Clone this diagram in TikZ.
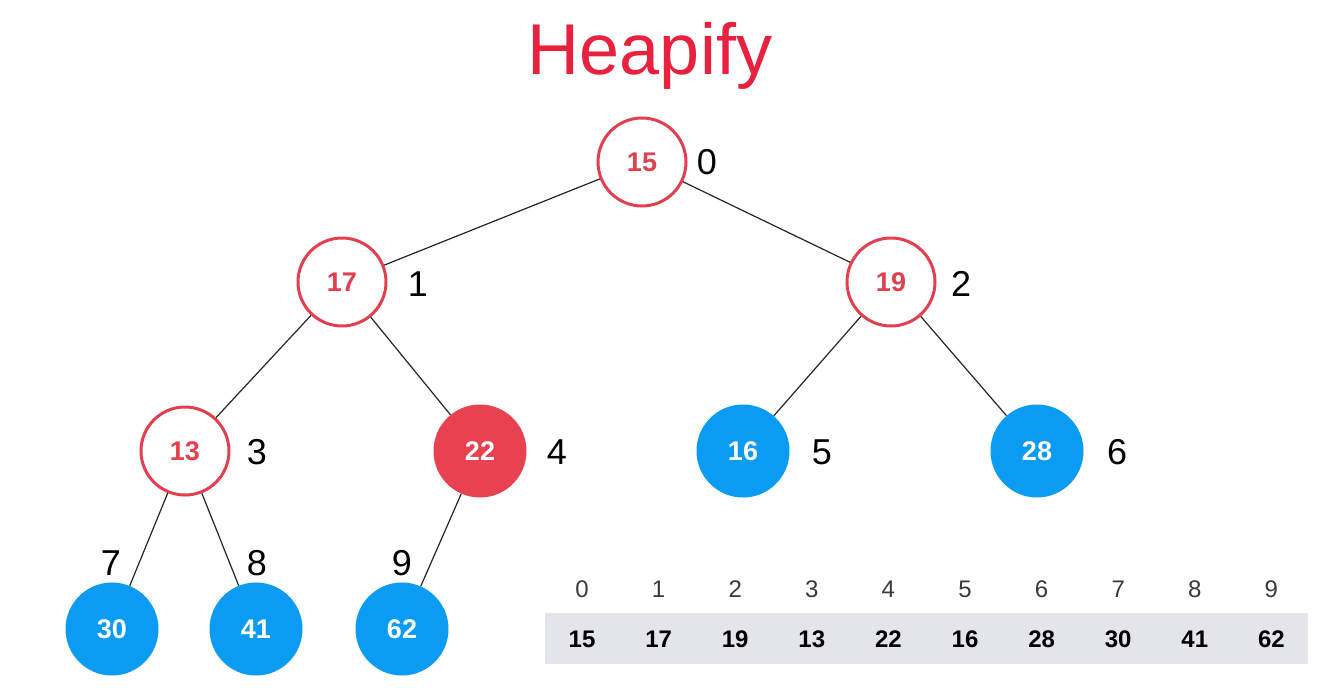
\documentclass[tikz,border=0pt]{standalone}
\usepackage{fontspec}
\setmainfont{Liberation Sans}
\definecolor{hred}{HTML}{E2404F}
\definecolor{hfill}{HTML}{E8414F}
\definecolor{hblue}{HTML}{0A9BF2}
\definecolor{htitle}{HTML}{E8213F}
\definecolor{graybg}{HTML}{E4E5EA}
\definecolor{idxgray}{HTML}{3A3A3A}
\begin{document}
\begin{tikzpicture}[x=1pt,y=-1pt,
  hnode/.style={circle, inner sep=0pt, font=\bfseries\fontsize{27}{27}\selectfont},
  outl/.style={hnode, draw=hred, line width=3pt, text=hred, minimum size=88pt, fill=white},
  filled/.style={hnode, fill=#1, text=white, minimum size=93pt},
  filled/.default=hblue,
  idx/.style={font=\fontsize{36}{36}\selectfont, inner sep=0pt},
  edge/.style={draw=black!85, line width=1.2pt},
  aidx/.style={font=\fontsize{24}{24}\selectfont, text=idxgray, inner sep=0pt},
  aval/.style={font=\bfseries\fontsize{24}{24}\selectfont, inner sep=0pt}]
\useasboundingbox[fill=white] (0,0) rectangle (1328,688);
\node[font=\fontsize{72}{72}\selectfont, text=htitle, anchor=base, inner sep=0pt] (title) at (650,74) {Heapify};
% tree nodes
\node[outl] (n0) at (642,162) {15};
\node[outl] (n1) at (342,282) {17};
\node[outl] (n2) at (891,282) {19};
\node[outl] (n3) at (185,451) {13};
\node[filled=hfill] (n4) at (480,451) {22};
\node[filled] (n5) at (743,451) {16};
\node[filled] (n6) at (1037,451) {28};
\node[filled] (n7) at (112,629) {30};
\node[filled] (n8) at (256,629) {41};
\node[filled] (n9) at (402,629) {62};
% edges
\draw[edge] (n0) -- (n1);
\draw[edge] (n0) -- (n2);
\draw[edge] (n1) -- (n3);
\draw[edge] (n1) -- (n4);
\draw[edge] (n2) -- (n5);
\draw[edge] (n2) -- (n6);
\draw[edge] (n3) -- (n7);
\draw[edge] (n3) -- (n8);
\draw[edge] (n4) -- (n9);
% index labels
\node[idx] (i0) at (707,162) {0};
\node[idx] (i1) at (418,284) {1};
\node[idx] (i2) at (961,284) {2};
\node[idx] (i3) at (257,452) {3};
\node[idx] (i4) at (557,452) {4};
\node[idx] (i5) at (822,452) {5};
\node[idx] (i6) at (1117,452) {6};
\node[idx] (i7) at (111,563) {7};
\node[idx] (i8) at (257,563) {8};
\node[idx] (i9) at (402,563) {9};
% array
\node[fill=graybg, minimum width=763pt, minimum height=51pt, anchor=north west, inner sep=0pt] (arr) at (545,613) {};
\foreach \v [count=\i from 0] in {15,17,19,13,22,16,28,30,41,62}{
  \node[aidx] (a\i) at ({582+76.6*\i},589.5) {\i};
  \node[aval] (v\i) at ({582+76.6*\i},639.5) {\v};
}
\end{tikzpicture}
\end{document}
